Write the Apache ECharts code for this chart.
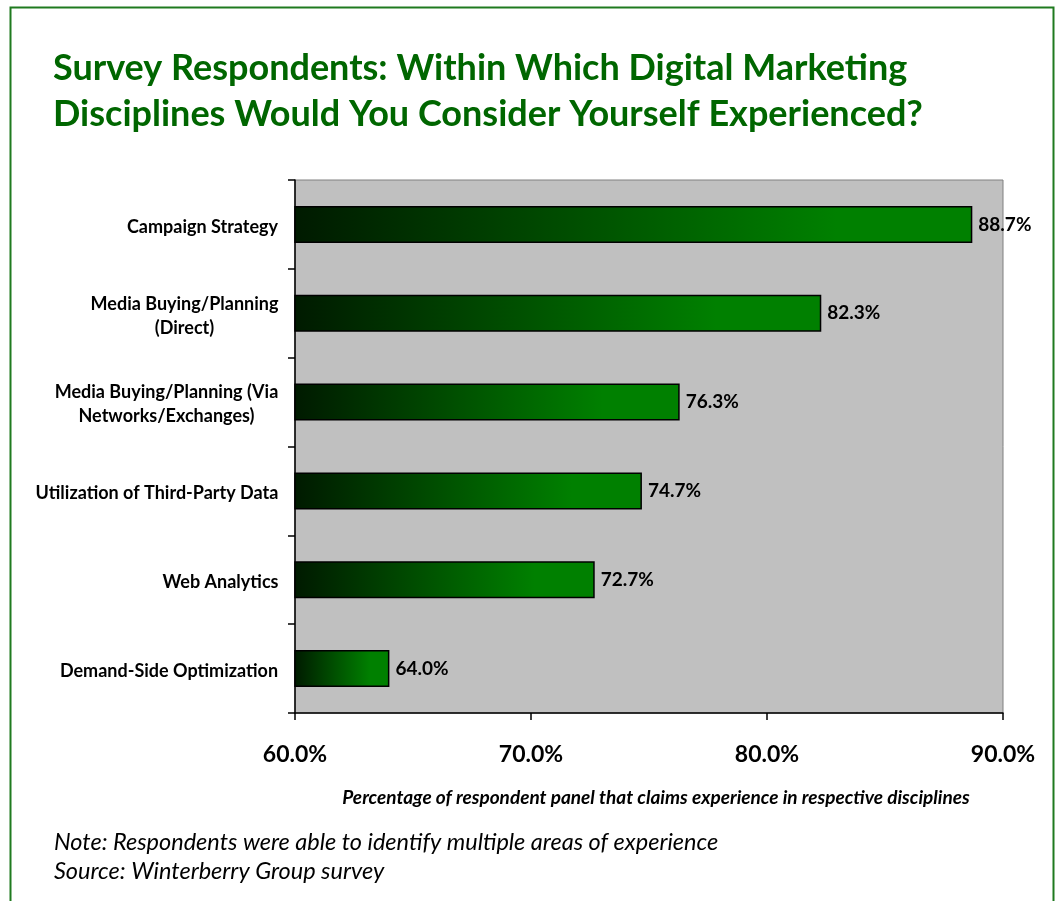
<!DOCTYPE html>
<html>
<head>
<meta charset="utf-8">
<script src="https://cdn.jsdelivr.net/npm/echarts@6/dist/echarts.min.js"></script>
<style>
  html, body { margin: 0; padding: 0; background: #ffffff; }
  #chart { width: 1059px; height: 901px; }
</style>
</head>
<body>
<div id="chart"></div>
<script>
// Survey disciplines (top to bottom) and share of respondents, in percent
const categories = [
  'Campaign Strategy',
  'Media Buying/Planning\n(Direct)',
  'Media Buying/Planning (Via\nNetworks/Exchanges)',
  'Utilization of Third-Party Data',
  'Web Analytics',
  'Demand-Side Optimization'
];
const values = [88.7, 82.3, 76.3, 74.7, 72.7, 64.0];
const xTicks = [60, 70, 80, 90];

const titleLines = [
  'Survey Respondents: Within Which Digital Marketing',
  'Disciplines Would You Consider Yourself Experienced?'
];
const axisTitle = 'Percentage of respondent panel that claims experience in respective disciplines';
const notes = [
  'Note: Respondents were able to identify multiple areas of experience',
  'Source: Winterberry Group survey'
];

const FONT = 'Lato, "Open Sans", sans-serif';
const LABEL_SIZE = 18;

// Multi-line category labels: lines centred within a block that is right-aligned to the axis
const measureCtx = document.createElement('canvas').getContext('2d');
measureCtx.font = 'bold ' + LABEL_SIZE + 'px Lato';
const labelRich = {};
categories.forEach(function (c, i) {
  const w = Math.max.apply(null, c.split('\n').map(function (l) { return measureCtx.measureText(l).width; }));
  labelRich['c' + i] = {
    width: Math.ceil(w) + 1,
    align: 'center',
    fontFamily: FONT,
    fontWeight: 'bold',
    fontSize: LABEL_SIZE,
    lineHeight: 24,
    color: '#000'
  };
});

const chart = echarts.init(document.getElementById('chart'), null, { renderer: 'canvas' });

chart.setOption({
  animation: false,
  backgroundColor: '#ffffff',
  title: {
    text: titleLines.join('\n'),
    left: 48,
    top: 40,
    textStyle: {
      fontFamily: FONT,
      fontWeight: 'bold',
      fontSize: 36,
      lineHeight: 46,
      color: '#006600'
    }
  },
  grid: {
    left: 295,
    right: 56,
    top: 180,
    bottom: 188,
    show: true,
    backgroundColor: '#c0c0c0',
    borderColor: '#808080',
    borderWidth: 1
  },
  xAxis: {
    type: 'value',
    min: xTicks[0],
    max: xTicks[xTicks.length - 1],
    interval: xTicks[1] - xTicks[0],
    splitLine: { show: false },
    axisLine: { show: true, lineStyle: { color: '#000', width: 1.5 } },
    axisTick: { show: true, length: 7, lineStyle: { color: '#000', width: 1.5 } },
    axisLabel: {
      margin: 30,
      fontFamily: FONT,
      fontWeight: 'bold',
      fontSize: 23,
      color: '#000',
      formatter: function (v) { return v.toFixed(1) + '%'; }
    },
    name: axisTitle,
    nameLocation: 'middle',
    nameGap: 75,
    nameTextStyle: {
      fontFamily: FONT,
      fontStyle: 'italic',
      fontWeight: 'bold',
      fontSize: 19,
      color: '#000',
      padding: [0, 0, 0, 14]
    }
  },
  yAxis: {
    type: 'category',
    data: categories,
    inverse: true,
    axisLine: { show: true, lineStyle: { color: '#000', width: 1.5 } },
    axisTick: { show: true, length: 7, lineStyle: { color: '#000', width: 1.5 } },
    axisLabel: {
      margin: 16,
      padding: [5, 0, 0, 0],
      rich: labelRich,
      formatter: function (v, i) {
        return v.split('\n').map(function (l) { return '{c' + i + '|' + l + '}'; }).join('\n');
      }
    },
    splitLine: { show: false }
  },
  series: [{
    type: 'bar',
    data: values,
    barWidth: 37,
    itemStyle: {
      color: new echarts.graphic.LinearGradient(0, 0, 1, 0, [
        { offset: 0, color: '#001a00' },
        { offset: 0.8, color: '#008000' },
        { offset: 1, color: '#008000' }
      ]),
      borderColor: '#000',
      borderWidth: 1.5
    },
    label: {
      show: true,
      position: 'right',
      distance: 6,
      fontFamily: FONT,
      fontWeight: 'bold',
      fontSize: 19,
      color: '#000',
      formatter: function (p) { return p.value.toFixed(1) + '%'; }
    }
  }],
  graphic: [
    {
      type: 'rect',
      shape: { x: 10.5, y: 7.5, width: 1043, height: 910 },
      style: { fill: null, stroke: '#1f7a1f', lineWidth: 2 },
      silent: true
    },
    {
      type: 'text',
      left: 54,
      top: 828,
      style: {
        text: notes.join('\n'),
        fontFamily: FONT,
        fontStyle: 'italic',
        fontSize: 23.5,
        lineHeight: 29,
        fill: '#000'
      }
    }
  ]
});
</script>
</body>
</html>
